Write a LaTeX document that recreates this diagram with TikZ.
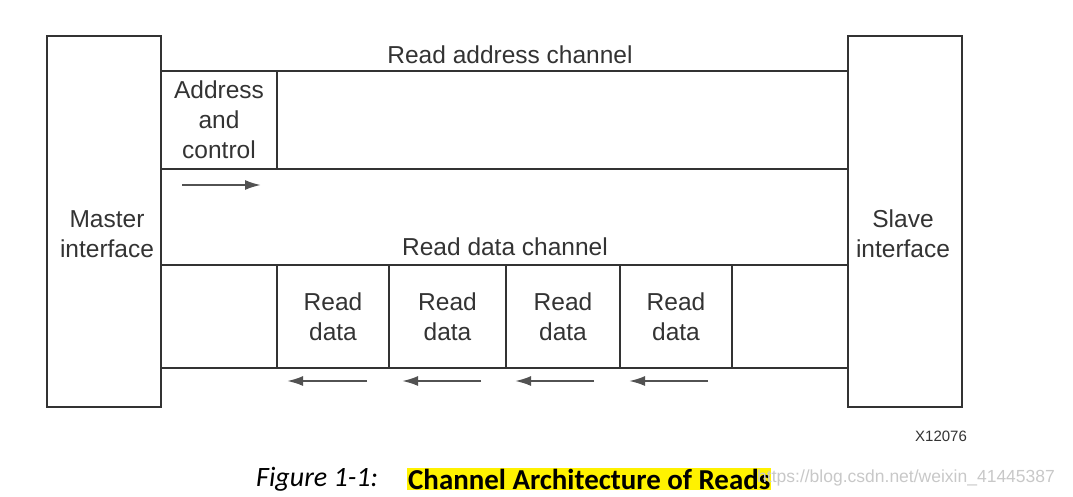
\documentclass[tikz,border=0pt]{standalone}
\usepackage{fontspec}
\setmainfont{Liberation Sans}
\newfontfamily\capfont{Carlito}
\usetikzlibrary{arrows.meta}
\definecolor{ink}{HTML}{333333}
\definecolor{hl}{HTML}{FFF200}
\definecolor{wm}{HTML}{C8C8C8}
\tikzset{
  frame/.style={draw=ink, line width=2.8pt, inner sep=0pt, text=ink, align=center,
    font=\fontsize{24.5}{30}\selectfont},
  lbl/.style={text=ink, inner sep=0pt, align=center, font=\fontsize{24.5}{30}\selectfont},
  chan/.style={draw=ink, line width=2.8pt},
  flow/.style={draw=ink!85, line width=2pt, -{Latex[length=16pt,width=10pt]}},
}
\begin{document}
\begin{tikzpicture}[x=1pt,y=-1pt]
\useasboundingbox (0,0) rectangle (1073,496);
% channel lines
\coordinate (a1) at (161,71); \coordinate (a2) at (848,71);
\coordinate (a3) at (161,169); \coordinate (a4) at (848,169);
\coordinate (d1) at (161,265); \coordinate (d2) at (848,265);
\coordinate (d3) at (161,368); \coordinate (d4) at (848,368);
\draw[chan] (a1) -- (a2); \draw[chan] (a3) -- (a4);
\draw[chan] (d1) -- (d2); \draw[chan] (d3) -- (d4);
% end boxes
\node[frame, minimum width=114pt, minimum height=371pt] (master) at (104,221.5) {};
\node[frame, minimum width=114pt, minimum height=371pt] (slave) at (905,221.5) {};
\node[lbl] (masterl) at (107,234) {Master\\interface};
\node[lbl] (slavel) at (903,234) {Slave\\interface};
% cells
\node[frame, minimum width=116pt, minimum height=98pt] (addr) at (219,120) {Address\\and\\control};
\node[frame, minimum width=112pt, minimum height=103pt] (r1) at (333,316.5) {Read\\data};
\node[frame, minimum width=117pt, minimum height=103pt] (r2) at (447.5,316.5) {Read\\data};
\node[frame, minimum width=114pt, minimum height=103pt] (r3) at (563,316.5) {Read\\data};
\node[frame, minimum width=112pt, minimum height=103pt] (r4) at (676,316.5) {Read\\data};
% labels
\node[lbl] (ral) at (510,55) {Read address channel};
\node[lbl] (rdl) at (505,247) {Read data channel};
% arrows
\coordinate (t1) at (182,185); \coordinate (t2) at (261,185);
\draw[flow] (t1) -- (t2);
\coordinate (b1s) at (367,381); \coordinate (b1e) at (287,381);
\coordinate (b2s) at (481,381); \coordinate (b2e) at (402,381);
\coordinate (b3s) at (594,381); \coordinate (b3e) at (515,381);
\coordinate (b4s) at (708,381); \coordinate (b4e) at (629,381);
\draw[flow] (b1s) -- (b1e);
\draw[flow] (b2s) -- (b2e);
\draw[flow] (b3s) -- (b3e);
\draw[flow] (b4s) -- (b4e);
% figure id
\node[text=ink, inner sep=0pt, font=\fontsize{15}{18}\selectfont] (fid) at (941,436) {X12076};
% caption
\node[inner sep=0pt, anchor=west, font=\capfont\itshape\fontsize{28}{32}\selectfont] (fig) at (256,479) {Figure 1-1:};
\node[fill=hl, inner xsep=1pt, inner ysep=1pt, anchor=west, font=\capfont\bfseries\fontsize{28.9}{32}\selectfont] (cap) at (407,479) {Channel Architecture of Reads};
\node[text=wm, inner sep=0pt, anchor=west, font=\fontsize{17.5}{20}\selectfont] (url) at (757,478) {https://blog.csdn.net/weixin\_41445387};
\end{tikzpicture}
\end{document}
